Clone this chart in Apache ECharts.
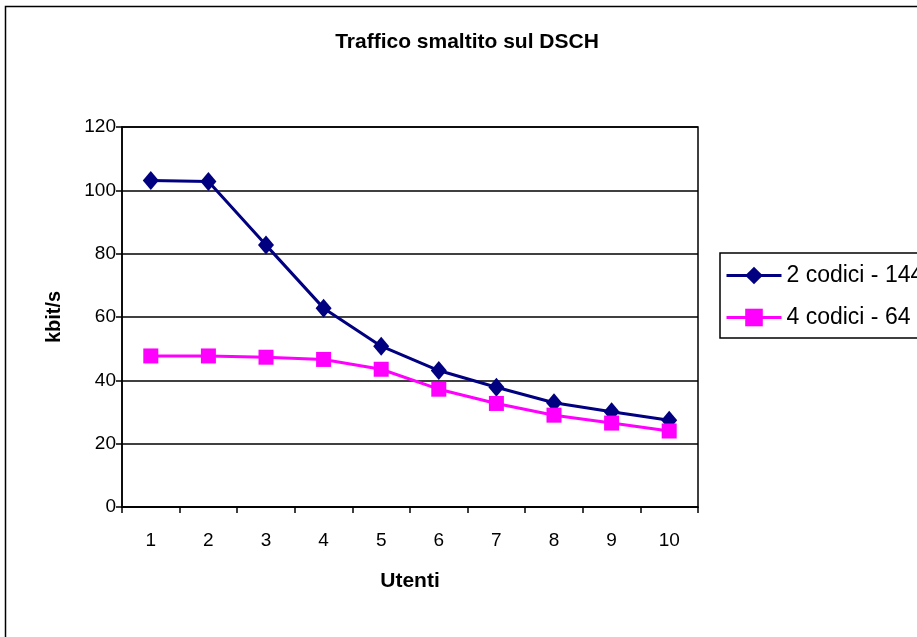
<!DOCTYPE html>
<html>
<head>
<meta charset="utf-8">
<script src="https://cdn.jsdelivr.net/npm/echarts@6/dist/echarts.min.js"></script>
<style>
html,body{margin:0;padding:0;background:#fff;}
#c{width:917px;height:637px;}
</style>
</head>
<body>
<div id="c"></div>
<script>
const categories = ['1','2','3','4','5','6','7','8','9','10'];
const seriesNames = ['2 codici - 144', '4 codici - 64'];
const codici2 = [103.1, 102.8, 82.7, 62.8, 50.8, 43.1, 37.8, 32.9, 30.1, 27.4];
const codici4 = [47.7, 47.7, 47.3, 46.6, 43.5, 37.2, 32.7, 29.0, 26.5, 24.0];
const yTicks = { min: 0, max: 120, interval: 20 };

const FONT = "'Liberation Sans', Arial, sans-serif";
const chart = echarts.init(document.getElementById('c'), null, { renderer: 'canvas' });
chart.setOption({
  backgroundColor: '#fff',
  animation: false,
  title: {
    text: 'Traffico smaltito sul DSCH',
    left: 467, top: 32, padding: 0, textAlign: 'center',
    textStyle: { fontFamily: FONT, fontSize: 21, fontWeight: 'bold', color: '#000' }
  },
  graphic: [{
    type: 'rect', silent: true,
    shape: { x: 5.5, y: 6.5, width: 1200, height: 1200 },
    style: { fill: 'none', stroke: '#000', lineWidth: 1.5 }
  }],
  legend: {
    orient: 'vertical',
    left: 720, top: 253,
    padding: [11, 12, 9, 5],
    itemGap: 19,
    itemWidth: 55, itemHeight: 22,
    borderColor: '#000', borderWidth: 1.5,
    backgroundColor: '#fff',
    lineStyle: { width: 3 },
    textStyle: { fontFamily: FONT, fontSize: 23, color: '#000', lineHeight: 23 },
    data: seriesNames
  },
  grid: {
    left: 122, right: 219, top: 127, bottom: 130,
    show: true, borderColor: '#000', borderWidth: 1.5, backgroundColor: '#fff'
  },
  xAxis: {
    type: 'category',
    data: categories,
    boundaryGap: true,
    name: 'Utenti', nameLocation: 'middle', nameGap: 64,
    nameTextStyle: { fontFamily: FONT, fontSize: 21, fontWeight: 'bold', color: '#000' },
    axisLine: { lineStyle: { color: '#000', width: 1.5 } },
    axisTick: { show: true, inside: false, length: 6, alignWithLabel: false, lineStyle: { color: '#000', width: 1.5 } },
    axisLabel: { fontFamily: FONT, fontSize: 19, color: '#000', margin: 24 },
    splitLine: { show: false }
  },
  yAxis: {
    type: 'value',
    min: yTicks.min, max: yTicks.max, interval: yTicks.interval,
    name: 'kbit/s', nameLocation: 'middle', nameGap: 58, nameRotate: 90,
    nameTextStyle: { fontFamily: FONT, fontSize: 20, fontWeight: 'bold', color: '#000' },
    axisLine: { show: true, lineStyle: { color: '#000', width: 1.5 } },
    axisTick: { show: true, inside: false, length: 6, lineStyle: { color: '#000', width: 1.5 } },
    axisLabel: { fontFamily: FONT, fontSize: 19, color: '#000', margin: 6 },
    splitLine: { show: true, lineStyle: { color: '#000', width: 1.5 } }
  },
  series: [
    {
      name: seriesNames[0], type: 'line', data: codici2,
      symbol: 'diamond', symbolSize: [16, 19],
      color: '#000080',
      lineStyle: { color: '#000080', width: 3 },
      itemStyle: { color: '#000080' }
    },
    {
      name: seriesNames[1], type: 'line', data: codici4,
      symbol: 'rect', symbolSize: 15,
      color: '#FF00FF',
      lineStyle: { color: '#FF00FF', width: 3 },
      itemStyle: { color: '#FF00FF' }
    }
  ]
});
</script>
</body>
</html>
